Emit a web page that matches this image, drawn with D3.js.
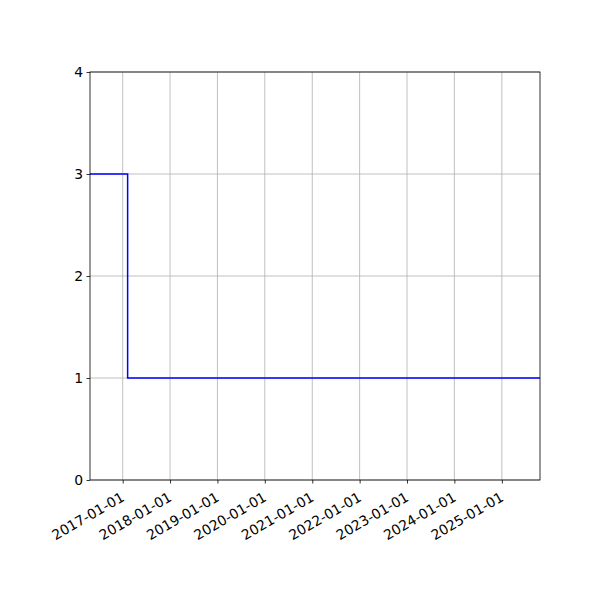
<!DOCTYPE html>
<html>
<head>
<meta charset="utf-8">
<script src="https://cdn.jsdelivr.net/npm/d3@7"></script>
<style>
  body { margin: 0; background: #fff; }
  text { font-family: "DejaVu Sans", sans-serif; }
</style>
</head>
<body>
<svg width="600" height="600"></svg>
<script>
// step series (value holds until next date)
var dates = ["2016-04-24", "2017-02-08", "2025-10-22"];
var values = [3, 1, 1];
var yTicks = [0, 1, 2, 3, 4];
var xTickLabels = ["2017-01-01", "2018-01-01", "2019-01-01", "2020-01-01", "2021-01-01",
                   "2022-01-01", "2023-01-01", "2024-01-01", "2025-01-01"];

var parse = d3.timeParse("%Y-%m-%d");
var data = dates.map(function(d, i) { return { date: parse(d), value: values[i] }; });

var svg = d3.select("svg"),
    pLeft = 90, pRight = 540, pTop = 72, pBottom = 480;

var x = d3.scaleTime()
          .domain(d3.extent(data, function(d) { return d.date; }))
          .range([pLeft, pRight]);
var y = d3.scaleLinear().domain([0, 4]).range([pBottom, pTop]);

var tickDates = xTickLabels.map(parse);

// grid
var grid = svg.append("g").attr("stroke", "#b0b0b0").attr("stroke-width", 0.8);
grid.selectAll(".vx").data(tickDates).enter().append("line")
    .attr("x1", function(d) { return x(d); }).attr("x2", function(d) { return x(d); })
    .attr("y1", pTop).attr("y2", pBottom);
grid.selectAll(".hy").data(yTicks).enter().append("line")
    .attr("x1", pLeft).attr("x2", pRight)
    .attr("y1", function(d) { return y(d); }).attr("y2", function(d) { return y(d); });

// line
var line = d3.line()
             .x(function(d) { return x(d.date); })
             .y(function(d) { return y(d.value); })
             .curve(d3.curveStepAfter);

svg.append("path")
   .datum(data)
   .attr("d", line)
   .attr("fill", "none")
   .attr("stroke", "#0000ff")
   .attr("stroke-width", 1.5);

// frame
svg.append("rect")
   .attr("x", pLeft).attr("y", pTop)
   .attr("width", pRight - pLeft).attr("height", pBottom - pTop)
   .attr("fill", "none").attr("stroke", "#000").attr("stroke-width", 0.8);

// axes
var xAxis = svg.append("g")
   .attr("transform", "translate(0," + pBottom + ")")
   .call(d3.axisBottom(x).tickValues(tickDates).tickFormat(d3.timeFormat("%Y-%m-%d"))
           .tickSize(3.5).tickSizeOuter(0));
xAxis.select(".domain").remove();
xAxis.selectAll("line").attr("stroke-width", 0.8);
xAxis.selectAll("text")
     .attr("font-size", "13.9px")
     .attr("fill", "#000")
     .attr("text-anchor", "end")
     .attr("dy", null)
     .attr("y", 0).attr("x", 0)
     .attr("dominant-baseline", "hanging")
     .attr("transform", "translate(-3,11) rotate(-30)");

var yAxis = svg.append("g")
   .attr("transform", "translate(" + pLeft + ",0)")
   .call(d3.axisLeft(y).tickValues(yTicks).tickFormat(d3.format("d"))
           .tickSize(3.5).tickSizeOuter(0));
yAxis.select(".domain").remove();
yAxis.selectAll("line").attr("stroke-width", 0.8);
yAxis.selectAll("text").attr("font-size", "13.9px").attr("fill", "#000").attr("x", -7);
</script>
</body>
</html>
